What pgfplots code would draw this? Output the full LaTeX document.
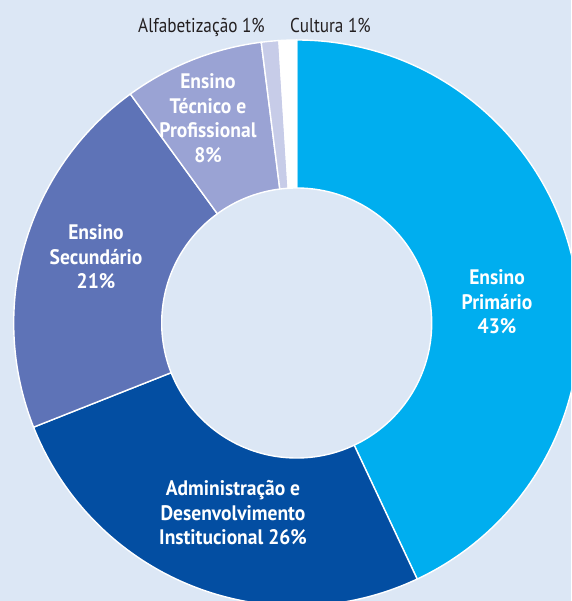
\documentclass[border=0pt]{standalone}
\usepackage{fontspec}
\usepackage{pgfplots}
\usepackage{pgfplotstable}
\pgfplotsset{compat=1.18}
\setmainfont{PT Sans}
\newfontfamily\labelfont[FakeStretch=0.93]{PT Sans}
\newfontfamily\notefont[FakeStretch=0.86]{PT Sans}

\definecolor{bgblue}{HTML}{DCE7F5}
\definecolor{cPrim}{HTML}{00AEEF}
\definecolor{cAdm}{HTML}{034EA2}
\definecolor{cSec}{HTML}{5E73B7}
\definecolor{cTec}{HTML}{9AA3D4}
\definecolor{cAlf}{HTML}{C7CCE8}
\definecolor{cCul}{HTML}{FFFFFF}
\definecolor{txtdark}{HTML}{231F20}

% share of each area, in percent, clockwise from twelve o'clock
\pgfplotstableread{
area value
Primario 43
Administracao 26
Secundario 21
Tecnico 8
Alfabetizacao 1
Cultura 1
}\sharetable

% cumulative angles of the wedges
\def\angA{90}
\pgfplotstablegetelem{0}{value}\of\sharetable \pgfmathsetmacro\angB{\angA-3.6*\pgfplotsretval}
\pgfplotstablegetelem{1}{value}\of\sharetable \pgfmathsetmacro\angC{\angB-3.6*\pgfplotsretval}
\pgfplotstablegetelem{2}{value}\of\sharetable \pgfmathsetmacro\angD{\angC-3.6*\pgfplotsretval}
\pgfplotstablegetelem{3}{value}\of\sharetable \pgfmathsetmacro\angE{\angD-3.6*\pgfplotsretval}
\pgfplotstablegetelem{4}{value}\of\sharetable \pgfmathsetmacro\angF{\angE-3.6*\pgfplotsretval}
\pgfplotstablegetelem{5}{value}\of\sharetable \pgfmathsetmacro\angG{\angF-3.6*\pgfplotsretval}

\def\cx{296.7}
\def\cy{278}
\def\rout{283pt}
\def\rin{135pt}

\newcommand\donutwedge[3]{%
  \fill[#1, draw=white, line width=1.4pt]
    (axis cs:\cx,\cy) -- ++(#2:\rout) arc[start angle=#2, end angle=#3, radius=\rout] -- cycle;}

\begin{document}
\begin{tikzpicture}
\path[use as bounding box] (0,0) rectangle (571pt,601pt);
\clip (0,0) rectangle (571pt,601pt);
\fill[bgblue] (0,0) rectangle (571pt,601pt);
\begin{axis}[
  at={(0,0)}, anchor=south west,
  scale only axis, width=571pt, height=601pt,
  xmin=0, xmax=571, ymin=0, ymax=601,
  hide axis, clip=false,
]
\donutwedge{cPrim}{\angA}{\angB}
\donutwedge{cAdm}{\angB}{\angC}
\donutwedge{cSec}{\angC}{\angD}
\donutwedge{cTec}{\angD}{\angE}
\donutwedge{cAlf}{\angE}{\angF}
\donutwedge{cCul}{\angF}{\angG}
\fill[bgblue, draw=white, line width=1.4pt] (axis cs:\cx,\cy) circle[radius=\rin];

\begin{scope}[every node/.style={text=white, align=center,
    font=\labelfont\bfseries\fontsize{21}{24.5}\selectfont}]
\node at (axis cs:497,299) {Ensino\\Primário\\43\%};
\node at (axis cs:96,344) {Ensino\\Secundário\\21\%};
\node at (axis cs:208,483) {Ensino\\Técnico e\\Profissional\\8\%};
\node at (axis cs:233,88) {Administração e\\Desenvolvimento\\Institucional 26\%};
\end{scope}
\node[anchor=base, text=txtdark, font=\notefont\fontsize{20}{24}\selectfont]
  at (axis cs:201.5,568) {Alfabetização 1\%};
\node[anchor=base, text=txtdark, font=\notefont\fontsize{20}{24}\selectfont]
  at (axis cs:330.5,568) {Cultura 1\%};
\end{axis}
\end{tikzpicture}
\end{document}
